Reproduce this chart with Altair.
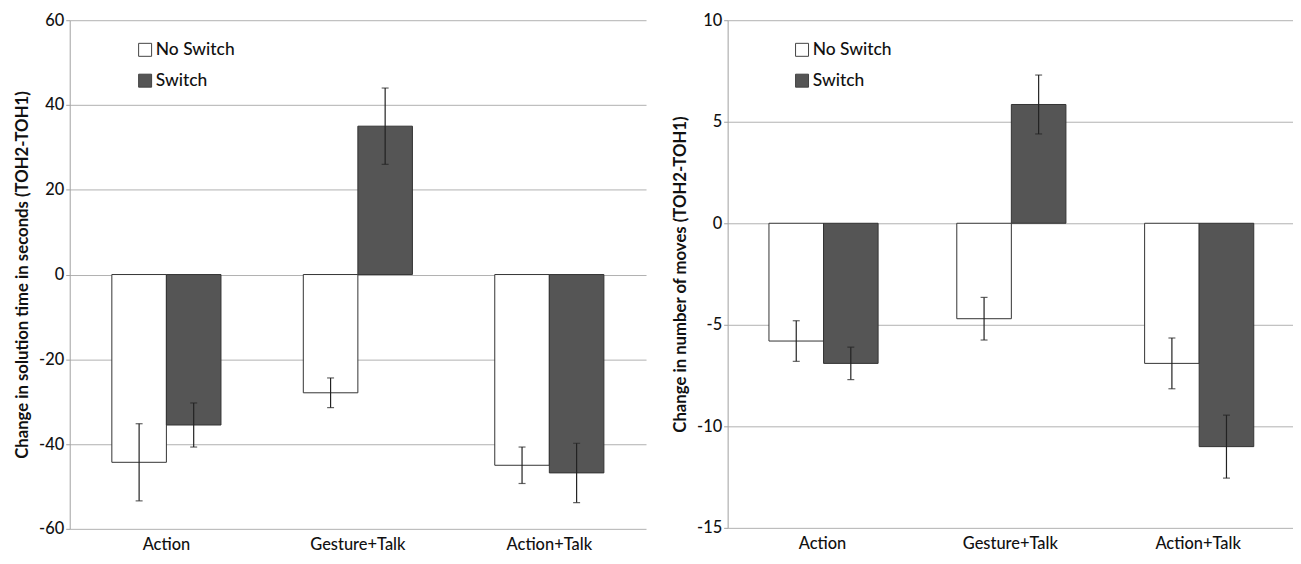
import altair as alt
import pandas as pd

categories = ["Action", "Gesture+Talk", "Action+Talk"]
groups = ["No Switch", "Switch"]

time_no_switch = [-44.3, -27.9, -45.0]
time_switch = [-35.5, 35.0, -46.8]
time_err_no_switch = [9.1, 3.5, 4.3]
time_err_switch = [5.2, 9.0, 7.0]

moves_no_switch = [-5.8, -4.7, -6.9]
moves_switch = [-6.9, 5.85, -11.0]
moves_err_no_switch = [1.0, 1.05, 1.25]
moves_err_switch = [0.8, 1.45, 1.55]

time_ticks = [-60, -40, -20, 0, 20, 40, 60]
moves_ticks = [-15, -10, -5, 0, 5, 10]

FONT = "Lato"


def make_df(no_sw, sw, err_no, err_sw):
    rows = []
    for i, c in enumerate(categories):
        for g, v, e in ((groups[0], no_sw[i], err_no[i]), (groups[1], sw[i], err_sw[i])):
            rows.append({"cat": c, "grp": g, "val": v, "lo": v - e, "hi": v + e})
    return pd.DataFrame(rows)


def panel(df, domain, ticks, title, width, height, legend_x, legend_y):
    base = alt.Chart(df).encode(
        x=alt.X("cat:N", sort=categories,
                scale=alt.Scale(paddingInner=0.43, paddingOuter=0.22),
                axis=alt.Axis(title=None, labelAngle=0, domain=False, ticks=False,
                              labelPadding=8, labelFontSize=16.5, labelFont=FONT,
                              labelFontWeight=500, labelColor="#111")),
        xOffset=alt.XOffset("grp:N", sort=groups,
                            scale=alt.Scale(paddingInner=0, paddingOuter=0)),
    )
    bars = base.mark_bar(stroke="#333", strokeWidth=1).encode(
        y=alt.Y("val:Q", scale=alt.Scale(domain=domain, nice=False, zero=False),
                axis=alt.Axis(values=ticks, title=title, grid=True, gridColor="#b0b0b0",
                              domainColor="#a0a0a0", tickColor="#a0a0a0", tickSize=4,
                              labelPadding=2, labelFontSize=16.5, labelFont=FONT,
                              labelFontWeight=500, labelExpr="datum.value + ''",
                              labelColor="#111", titleFont=FONT, titleFontSize=16.8,
                              titleFontWeight="bold", titleColor="#111", titlePadding=7)),
        y2=alt.datum(0),
        color=alt.Color("grp:N",
                        scale=alt.Scale(domain=groups, range=["#ffffff", "#555555"]),
                        legend=alt.Legend(orient="none", legendX=legend_x, legendY=legend_y,
                                          title=None, symbolType="square", symbolSize=170,
                                          symbolStrokeColor="#444", symbolStrokeWidth=1,
                                          labelFontSize=17.5, labelFont=FONT, labelColor="#111",
                                          labelFontWeight=500,
                                          labelOffset=2, rowPadding=12)),
    )
    rules = base.mark_rule(color="#222", strokeWidth=1.2).encode(y="lo:Q", y2="hi:Q")
    cap_lo = base.mark_tick(color="#222", thickness=1.2, size=7).encode(y="lo:Q")
    cap_hi = base.mark_tick(color="#222", thickness=1.2, size=7).encode(y="hi:Q")
    return alt.layer(bars, rules, cap_lo, cap_hi).properties(width=width, height=height)


left = panel(make_df(time_no_switch, time_switch, time_err_no_switch, time_err_switch),
             [-60, 60], time_ticks, "Change in solution time in seconds (TOH2-TOH1)",
             579, 511, 67, 21)
right = panel(make_df(moves_no_switch, moves_switch, moves_err_no_switch, moves_err_switch),
              [-15, 10], moves_ticks, "Change in number of moves (TOH2-TOH1)",
              568, 510, 66, 21)

chart = alt.hconcat(left, right, spacing=26).resolve_scale(
    color="independent", y="independent", x="independent"
).resolve_legend(color="independent").properties(
    padding={"left": 6, "top": 3, "right": 0, "bottom": 0}
).configure_view(stroke=None)

chart.save("out.html", embed_options={"renderer": "svg", "actions": False})
